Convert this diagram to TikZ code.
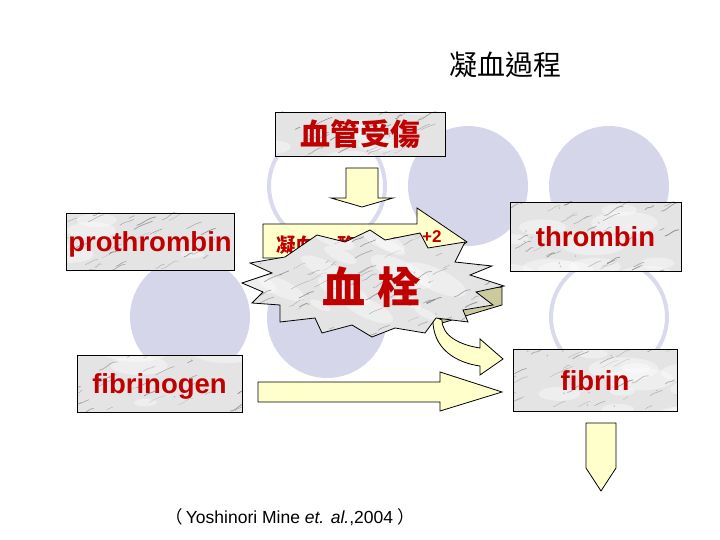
\documentclass[tikz,border=0pt]{standalone}
\usepackage{fontspec}
\setmainfont{Liberation Sans}
\newfontfamily\cjk{Noto Sans CJK TC}
\definecolor{lav}{HTML}{D6D6EB}
\definecolor{lavring}{HTML}{DADAEE}
\definecolor{pale}{HTML}{FFFFCC}
\definecolor{khaki}{HTML}{CACA9C}
\definecolor{dred}{HTML}{C00000}
\definecolor{marblebg}{HTML}{E4E4E4}
\pgfmathsetseed{7}
\tikzset{
  marble/.style={fill=marblebg, draw=black, line width=0.9pt,
    path picture={
      \begin{scope}[shift={(path picture bounding box.center)}]
      \foreach \k in {1,...,22}{
        \pgfmathsetmacro\xa{rnd*280-140}
        \pgfmathsetmacro\ya{rnd*120-60}
        \pgfmathsetmacro\ra{rnd*14+6}
        \fill[white, opacity=0.4, rotate around={-25:(\xa,\ya)}] (\xa,\ya) ellipse [x radius=\ra*1.8, y radius=\ra*0.6];
      }
      \foreach \k in {1,...,110}{
        \pgfmathsetmacro\xa{rnd*300-150}
        \pgfmathsetmacro\ya{rnd*130-65}
        \pgfmathsetmacro\la{rnd*16+4}
        \pgfmathsetmacro\wa{rnd*6-3}
        \pgfmathsetmacro\ga{rnd*40+30}
        \pgfmathsetmacro\lw{rnd*0.6+0.3}
        \draw[black!\ga, line width=\lw pt, opacity=0.55, line cap=round]
          (\xa,\ya) .. controls (\xa+\la*0.3,\ya-\la*0.1+\wa) and (\xa+\la*0.6,\ya-\la*0.4-\wa) .. (\xa+\la,\ya-\la*0.45);
      }
      \foreach \k in {1,...,30}{
        \pgfmathsetmacro\xa{rnd*300-150}
        \pgfmathsetmacro\ya{rnd*130-65}
        \fill[black!45, opacity=0.45] (\xa,\ya) circle[radius=0.9];
      }
      \end{scope}}},
  box/.style={marble, rectangle, inner sep=0pt, text height=20pt, text depth=0pt,
    font=\fontsize{27.5}{30}\bfseries, text=dred},
  blockarrow/.style={fill=pale, draw=black, line width=0.8pt, line join=miter},
  ring/.style={draw=lavring, line width=4pt},
  disc/.style={fill=lav}
}
\begin{document}
\begin{tikzpicture}[x=1pt,y=-1pt]
\useasboundingbox (0,0) rectangle (720,540);

% background circles
\draw[ring] (327,186) circle[radius=58];
\fill[disc] (468,186) circle[radius=60];
\fill[disc] (609,186) circle[radius=60];
\fill[disc] (190,317) circle[radius=60];
\fill[disc] (327,318) circle[radius=60];
\draw[ring] (609,317) circle[radius=58];

% title
\node[font=\cjk\fontsize{28}{30}\selectfont] (title) at (505,65) {凝血過程};

% block arrows
\draw[blockarrow] (346,168) -- (378,168) -- (378,198) -- (393,198) -- (362,207) -- (331,198) -- (346,198) -- cycle;
\draw[blockarrow] (263,224) -- (417,224) -- (417,208) -- (467,242) -- (417,276) -- (417,258) -- (263,258) -- cycle;
\node[anchor=base west, inner sep=0pt, text=dred, font=\cjk\bfseries\fontsize{19.5}{20}\selectfont] (enz1) at (276,252) {凝血};
\node[anchor=base west, inner sep=0pt, text=dred, font=\cjk\bfseries\fontsize{19.5}{20}\selectfont] (enz2) at (337,252) {酶};
\node[anchor=base west, inner sep=0pt, text=dred, font=\bfseries\fontsize{21}{22}\selectfont] (ca) at (388,252) {Ca};
\node[anchor=base west, inner sep=0pt, text=dred, font=\bfseries\fontsize{17}{18}\selectfont] (ca2) at (422,242) {+2};

\draw[fill=khaki, draw=black, line width=0.8pt] (433,316) -- (442,323) -- (502,305) -- (502,287) -- (470,290) -- cycle;
\draw[blockarrow] (433,316) .. controls (431,350) and (458,363) .. (480,366) -- (480,375) -- (503,359) -- (480,339) -- (480,348) .. controls (460,345) and (442,336) .. (442,320) -- cycle;

\draw[blockarrow] (258,382) -- (440,382) -- (440,372) -- (502,392) -- (440,411) -- (440,402) -- (258,402) -- cycle;
\draw[blockarrow] (586,423) -- (616,423) -- (616,468) -- (601,491) -- (586,468) -- cycle;

% boxes
\node[box, minimum width=170pt, minimum height=44pt, font=\cjk\bfseries\fontsize{30}{32}\selectfont, text height=, text depth=] (injury) at (360,134) {血管受傷};
\node[box, minimum width=168pt, minimum height=57pt] (prothrombin) at (150,241.5) {prothrombin};
\node[box, minimum width=171pt, minimum height=69pt] (thrombin) at (595.5,236.5) {thrombin};
\node[box, minimum width=165pt, minimum height=57pt] (fibrinogen) at (159.5,383.5) {fibrinogen};
\node[box, minimum width=164pt, minimum height=62pt] (fibrin) at (595,380) {fibrin};

% explosion
\path[marble, line width=0.8pt, line join=miter]
 (317,235) -- (345,242) -- (370,230) -- (385,240) -- (420,233) -- (428,248) -- (465,242) -- (455,262)
 -- (492,266) -- (470,275) -- (504,286) -- (476,292) -- (493,305) -- (463,310) -- (468,322) -- (436,318)
 -- (425,333) -- (395,328) -- (372,337) -- (352,325) -- (322,333) -- (315,318) -- (280,322) -- (280,305)
 -- (252,303) -- (263,292) -- (242,283) -- (272,273) -- (250,263) -- (285,257) -- cycle;
\node[text=dred, font=\cjk\bfseries\fontsize{43}{45}\selectfont] (clot) at (371,287) {血\hspace{12pt}栓};

% citation
\node[anchor=base, font=\fontsize{17.5}{19}\selectfont] (cite) at (290,523) {{\cjk （}\hspace{3pt}Yoshinori Mine \textit{et. al.},2004\hspace{4pt}{\cjk ）}};
\end{tikzpicture}
\end{document}
